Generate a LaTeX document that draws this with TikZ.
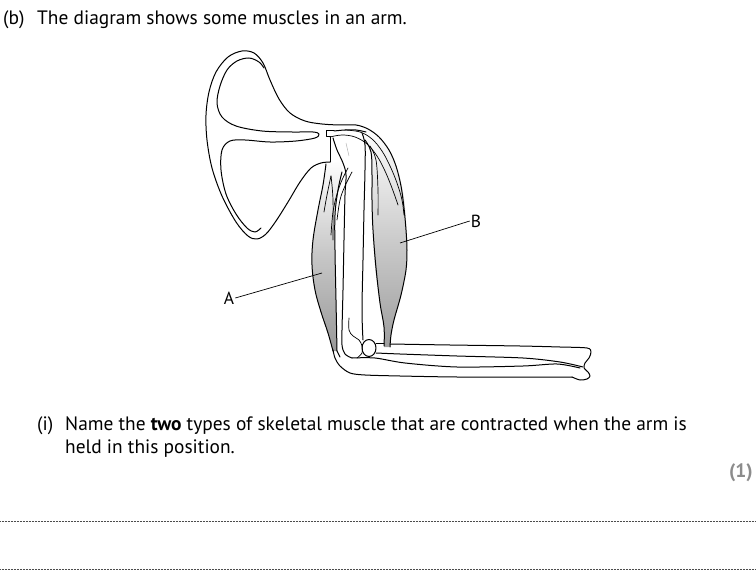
\documentclass[tikz,border=0pt]{standalone}
\usepackage{fontspec}
\setmainfont{PT Sans}
\begin{document}
\begin{tikzpicture}[x=1pt,y=-1pt,
  bone/.style={draw=black, line width=1pt, line join=round, line cap=round},
  thin/.style={draw=black, line width=0.7pt, line cap=round},
  faint/.style={draw=gray!60, line width=0.5pt},
  txt/.style={inner sep=0pt, anchor=base west, font=\fontsize{19.4}{23}\selectfont},
  lab/.style={inner sep=1pt, font=\fontsize{17.5}{20}\selectfont},
  pointer/.style={draw=black, line width=0.7pt},
  answer/.style={draw=black!70, line width=0.5pt, dash pattern=on 0.5pt off 1pt}]
\useasboundingbox (0,0) rectangle (756,583);

% ---------- texts ----------
\node[txt] (tb) at (3,25) {(b)};
\node[txt] (title) at (37,25) {The diagram shows some muscles in an arm.};
\node[txt] (qi) at (37,430) {(i)};
\node[txt] (q1) at (65,430) {Name the \textbf{two} types of skeletal muscle that are contracted when the arm is};
\node[txt] (q2) at (65,453) {held in this position.};
\node[txt, anchor=base east, text=black!45, font=\bfseries\fontsize{19.4}{23}\selectfont] (mark) at (753,477) {(1)};
\coordinate (l1a) at (0,521); \coordinate (l1b) at (756,521);
\coordinate (l2a) at (0,569); \coordinate (l2b) at (756,569);
\draw[answer] (l1a) -- (l1b);
\draw[answer] (l2a) -- (l2b);

% ---------- muscle B (biceps) shading ----------
\shade[top color=white, bottom color=black!38, middle color=black!20]
  plot[smooth, tension=0.6] coordinates {(363,128) (375,134) (386,145) (394,160) (400,178) (404,198) (406,222) (407,245) (406,268) (401,295) (394,320) (391,335) (390,347)}
  -- (384,347)
  -- plot[smooth, tension=0.6] coordinates {(384,347) (384,327) (380,303) (375,265) (373,230) (372,190) (372,160) (369,145) (363,138)} -- cycle;

% ---------- muscle A (triceps) shading ----------
\shade[top color=white, bottom color=black!40, middle color=black!22]
  plot[smooth, tension=0.6] coordinates {(326,164) (323,185) (318,210) (313,240) (312,265) (315,290) (321,312) (328,333) (333,351)}
  -- (337,351)
  -- plot[smooth, tension=0.6] coordinates {(337,351) (336,300) (335,250) (335,215) (338,190) (342,172) (340,160) (334,163)} -- cycle;

% ---------- scapula outer contour continuing into B outer edge ----------
\draw[bone] plot[smooth, tension=0.55] coordinates {
  (330,162) (321,163) (311,168) (300,182) (288,202) (276,221) (266,234) (257,239) (248,236)
  (236,222) (222,196) (212,168) (207,140) (206,115) (209,92) (216,72) (228,57) (242,51) (254,53)
  (263,63) (270,80) (279,99) (290,113) (305,121) (322,124) (340,125) (356,125)
  (368,129) (379,137) (389,150) (396,166) (401,186) (404,208) (406,230) (407,250) (406,270)
  (401,295) (394,320) (391,335) (390,347)};

% ---------- scapula inner line (with hooked ends) ----------
\draw[bone] plot[smooth, tension=0.55] coordinates {
  (264,68) (259,62) (249,58) (237,61) (227,70) (220,86) (217,103) (222,117) (236,126) (262,131)
  (292,132) (313,132) (319,134) (315,138) (296,141) (270,142) (245,140) (230,141) (222,150)
  (221,170) (226,194) (236,214) (247,228) (255,232) (261,228)};

% ---------- glenoid / acromion bar ----------
\draw[bone] (330,162) -- (330,137) -- (326,137) -- (326,131) -- (334,131);
\draw[bone] plot[smooth, tension=0.6] coordinates {(334,131) (345,130) (356,130) (366,132)};
% long-head tendons curving over the humeral head
\draw[thin] plot[smooth, tension=0.6] coordinates {(330,137) (342,135) (355,137) (367,144) (377,156) (385,171) (392,188) (398,205)};
\draw[thin] plot[smooth, tension=0.6] coordinates {(345,130) (360,132) (372,139) (382,151) (390,166) (397,183) (402,200) (404,215)};

% ---------- humerus ----------
\draw[bone] plot[smooth, tension=0.6] coordinates {(333,138) (337,150) (343,163) (346,175) (345,195) (344,240) (343,290) (342,330) (342,345) (345,354) (352,358)};
\draw[bone] plot[smooth, tension=0.6] coordinates {(362,133) (365,145) (365,170) (364,210) (363,260) (362,310) (363,340)};
\draw[faint] (346,143) -- (349,156);
% olecranon fossa / trochlea
\draw[thin] plot[smooth, tension=0.6] coordinates {(349,318) (349,330) (353,336) (359,340) (362,346) (362,353) (357,358)};
% radius head
\draw[bone] (369,348) ellipse [x radius=7, y radius=8.5];

% ---------- muscle A outlines ----------
\draw[bone] plot[smooth, tension=0.6] coordinates {(326,164) (323,185) (318,210) (313,240) (312,265) (315,290) (321,312) (328,333) (333,351)};
\draw[bone] plot[smooth, tension=0.6] coordinates {(342,172) (338,190) (335,215) (335,250) (336,300) (337,351)};
% triceps head strands
\draw[thin] plot[smooth, tension=0.6] coordinates {(331,176) (327,195) (324,212)};
\draw[thin] plot[smooth, tension=0.6] coordinates {(331,176) (333,200) (333,240)};
\draw[thin] plot[smooth, tension=0.6] coordinates {(348,168) (342,180) (337,194) (333,212) (331,235)};
\draw[thin] plot[smooth, tension=0.6] coordinates {(352,172) (345,186) (340,200) (337,220)};

% ---------- muscle B outlines ----------
\draw[bone] plot[smooth, tension=0.6] coordinates {(365,140) (371,152) (372,175) (372,200) (373,230) (376,268) (380,303) (384,327) (384,346)};
\draw[thin] plot[smooth, tension=0.6] coordinates {(370,146) (376,160) (378,190) (378,215)};

% ---------- forearm ----------
\draw[bone] (376,343) -- (384,343);
\draw[bone] plot[smooth, tension=0.5] coordinates {(390,344) (450,345) (520,346) (560,347) (587,348)
  (591,352) (589,358) (585,363) (584,368) (588,372) (590,376) (587,379) (580,380) (572,377)};
\draw[bone] plot[smooth, tension=0.5] coordinates {(572,377) (530,377) (457,377) (400,376) (365,375)
  (350,373) (340,366) (335,358) (333,350)};
\draw[bone] plot[smooth, tension=0.5] coordinates {(376,353) (400,354) (457,356) (523,358) (560,362) (583,367)};
\draw[bone] plot[smooth, tension=0.5] coordinates {(352,358) (375,358) (405,363) (457,367) (523,366) (557,364) (580,368)};
\draw[bone] (337,351) -- (340,357);

% ---------- labels ----------
\node[lab] (A) at (229,298) {A};
\node[lab] (B) at (476,221) {B};
\coordinate (Ain) at (322,273);
\coordinate (Bin) at (400,243);
\draw[pointer] (A.east) -- (Ain);
\draw[pointer] (B.west) -- (Bin);
\end{tikzpicture}
\end{document}
